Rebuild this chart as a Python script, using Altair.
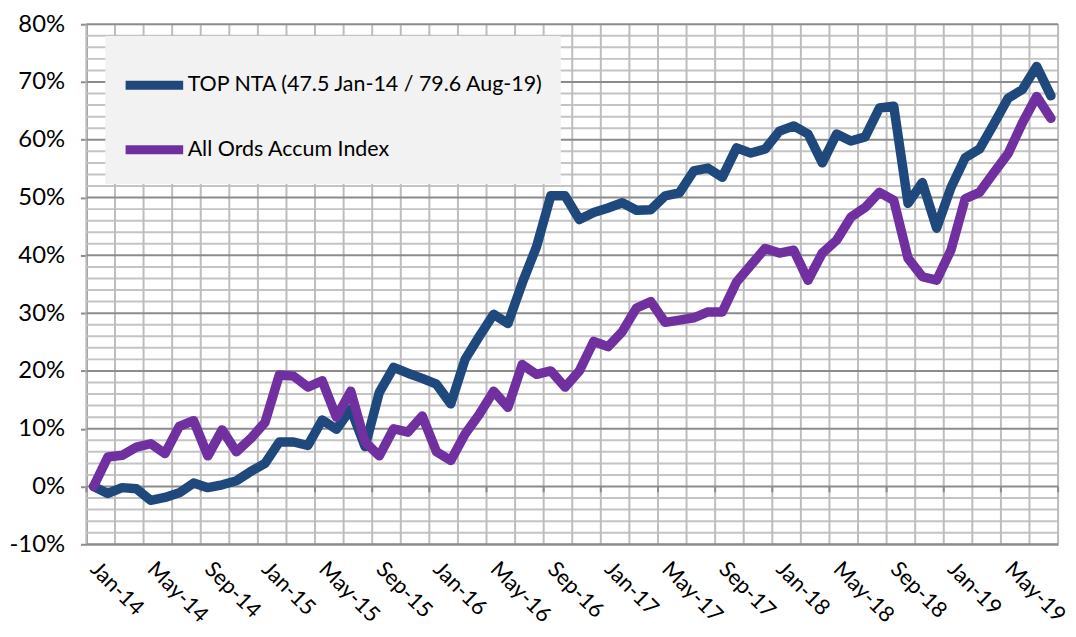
import json
import altair as alt
import pandas as pd

months = [
    "Jan-14", "Feb-14", "Mar-14", "Apr-14", "May-14", "Jun-14", "Jul-14", "Aug-14", "Sep-14", "Oct-14", "Nov-14", "Dec-14",
    "Jan-15", "Feb-15", "Mar-15", "Apr-15", "May-15", "Jun-15", "Jul-15", "Aug-15", "Sep-15", "Oct-15", "Nov-15", "Dec-15",
    "Jan-16", "Feb-16", "Mar-16", "Apr-16", "May-16", "Jun-16", "Jul-16", "Aug-16", "Sep-16", "Oct-16", "Nov-16", "Dec-16",
    "Jan-17", "Feb-17", "Mar-17", "Apr-17", "May-17", "Jun-17", "Jul-17", "Aug-17", "Sep-17", "Oct-17", "Nov-17", "Dec-17",
    "Jan-18", "Feb-18", "Mar-18", "Apr-18", "May-18", "Jun-18", "Jul-18", "Aug-18", "Sep-18", "Oct-18", "Nov-18", "Dec-18",
    "Jan-19", "Feb-19", "Mar-19", "Apr-19", "May-19", "Jun-19", "Jul-19", "Aug-19",
]

top_nta = [
    0.0, -1.2, -0.2, -0.4, -2.4, -1.9, -1.1, 0.6, -0.2, 0.3,
    1.0, 2.6, 4.0, 7.7, 7.7, 7.1, 11.5, 9.9, 13.4, 6.9,
    16.3, 20.6, 19.6, 18.7, 17.7, 14.3, 22.0, 26.0, 29.8, 28.2,
    35.2, 41.5, 50.3, 50.3, 46.2, 47.4, 48.2, 49.1, 47.8, 47.9,
    50.3, 50.8, 54.6, 55.1, 53.5, 58.6, 57.7, 58.4, 61.5, 62.4,
    61.0, 56.0, 61.0, 59.8, 60.5, 65.5, 65.8, 49.0, 52.6, 44.7,
    51.7, 56.9, 58.4, 62.7, 67.2, 68.7, 72.7, 67.6,
]

all_ords = [
    0.0, 5.1, 5.4, 6.8, 7.4, 5.7, 10.4, 11.4, 5.3, 9.8,
    6.0, 8.3, 11.1, 19.3, 19.1, 17.2, 18.3, 12.0, 16.5, 7.7,
    5.3, 10.0, 9.4, 12.2, 6.0, 4.5, 9.1, 12.5, 16.5, 13.7,
    21.1, 19.4, 20.0, 17.2, 20.0, 25.1, 24.2, 26.8, 30.9, 32.0,
    28.4, 28.8, 29.2, 30.2, 30.2, 35.4, 38.3, 41.2, 40.4, 40.9,
    35.7, 40.4, 42.6, 46.6, 48.3, 50.9, 49.5, 39.5, 36.3, 35.7,
    40.9, 49.8, 50.9, 54.3, 57.6, 62.9, 67.5, 63.7,
]

series_names = ["TOP NTA (47.5 Jan-14 / 79.6 Aug-19)", "All Ords Accum Index"]
series_colors = ["#1F497D", "#7030A0"]

y_major = [-10, 0, 10, 20, 30, 40, 50, 60, 70, 80]
y_minor = [v for v in range(-10, 81, 2) if v % 10 != 0]
x_label_idx = list(range(0, len(months), 4))
x_grid = [i - 0.5 for i in range(0, len(months) + 1, 2)]
x_zero_ticks = [i - 0.5 for i in range(0, len(months) + 1, 4)]

rows = []
for name, vals in zip(series_names, [top_nta, all_ords]):
    for i, (m, v) in enumerate(zip(months, vals)):
        rows.append({"idx": i, "month": m, "series": name, "value": v})
df = pd.DataFrame(rows)

W, H = 979, 524
FONT = "Lato"

xs = alt.Scale(domain=[-0.5, len(months) - 0.5], nice=False, zero=False)
ys = alt.Scale(domain=[-10, 80], nice=False, zero=False)

axis_x = alt.Axis(
    values=x_label_idx,
    labelExpr=json.dumps(months) + "[datum.value]",
    grid=False, ticks=False,
    domainColor="#a0a0a0", domainWidth=2,
    labelAngle=45, labelAlign="left", labelBaseline="middle",
    labelPadding=21, labelFont=FONT, labelFontSize=22, labelColor="black",
    labelOverlap=False, labelBound=False, title=None,
)
axis_y = alt.Axis(
    values=y_major,
    labelExpr="datum.value + '%'",
    grid=False,
    domainColor="#8c8c8c", domainWidth=2,
    tickColor="#8c8c8c", tickSize=6, tickWidth=2,
    labelPadding=16, labelFont=FONT, labelFontSize=24, labelColor="black",
    title=None,
)

minor_h = alt.Chart(pd.DataFrame({"y": y_minor})).mark_rule(
    color="#c4c4c4", strokeWidth=2
).encode(y=alt.Y("y:Q", scale=ys, axis=axis_y))

vert = alt.Chart(pd.DataFrame({"x": x_grid})).mark_rule(
    color="#bdbdbd", strokeWidth=2
).encode(x=alt.X("x:Q", scale=xs, axis=axis_x))

major_h = alt.Chart(pd.DataFrame({"y": y_major})).mark_rule(
    color="#8c8c8c", strokeWidth=2
).encode(y=alt.Y("y:Q", scale=ys, axis=axis_y))

zero_ticks = alt.Chart(pd.DataFrame({"x": x_zero_ticks, "y0": [0] * len(x_zero_ticks), "y1": [-1] * len(x_zero_ticks)})).mark_rule(
    color="#8c8c8c", strokeWidth=2
).encode(
    x=alt.X("x:Q", scale=xs, axis=axis_x),
    y=alt.Y("y0:Q", scale=ys, axis=axis_y),
    y2="y1:Q",
)

lines = alt.Chart(df).mark_line(
    strokeWidth=9.5, strokeCap="round", strokeJoin="round"
).encode(
    x=alt.X("idx:Q", scale=xs, axis=axis_x),
    y=alt.Y("value:Q", scale=ys, axis=axis_y),
    color=alt.Color(
        "series:N",
        scale=alt.Scale(domain=series_names, range=series_colors),
        sort=series_names,
        legend=alt.Legend(
            title=None, orient="none", legendX=19, legendY=12,
            direction="vertical",
            symbolType="stroke", symbolStrokeWidth=9, symbolSize=3364,
            labelFont=FONT, labelFontSize=21.6, labelColor="black", labelOffset=0,
            labelLimit=0,
            fillColor="#f2f2f2", padding=16, rowPadding=13,
        ),
    ),
    detail="series:N",
)

chart = alt.layer(minor_h, vert, major_h, zero_ticks, lines).properties(
    width=W, height=H,
    autosize=alt.AutoSizeParams(type="none"),
    padding={"left": 79, "top": 14, "right": 10, "bottom": 80},
).configure_view(fill="#e6e6e6", stroke=None).configure(background="white")

chart.save("out.html", embed_options={"renderer": "svg", "actions": False})
